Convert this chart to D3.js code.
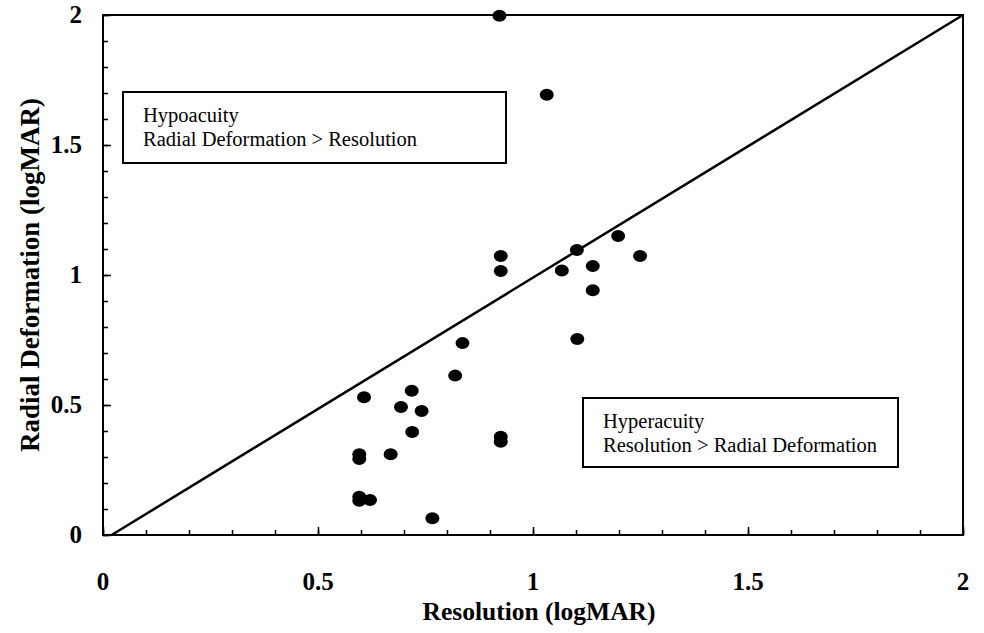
<!DOCTYPE html>
<html>
<head>
<meta charset="utf-8">
<script src="https://cdn.jsdelivr.net/npm/d3@7"></script>
<style>
  body { margin: 0; background: #fff; }
  svg { display: block; }
</style>
</head>
<body>
<script>
'use strict';

// resolution (x) and radial deformation (y), both logMAR
const resolution = [0.922, 1.032, 0.925, 0.925, 1.102, 1.198, 1.249, 1.067, 1.139, 1.139,
  1.103, 0.836, 0.819, 0.607, 0.718, 0.693, 0.741, 0.719, 0.596, 0.596, 0.669,
  0.925, 0.925, 0.596, 0.596, 0.621, 0.766];
const deformation = [1.997, 1.693, 1.073, 1.015, 1.096, 1.150, 1.073, 1.017, 1.035, 0.941,
  0.754, 0.738, 0.613, 0.530, 0.555, 0.492, 0.477, 0.396, 0.311, 0.292, 0.311,
  0.378, 0.359, 0.147, 0.132, 0.135, 0.064];

const majorTicks = [0, 0.5, 1, 1.5, 2];
const minorTicks = d3.range(0, 21).map((i) => i / 10);
const tickLabels = ["0", "0.5", "1", "1.5", "2"];

// reference line endpoints (x, y)
const refLine = [[0.02, 0], [2, 2]];

const hypoText = ["Hypoacuity", "Radial Deformation > Resolution"];
const hyperText = ["Hyperacuity", "Resolution > Radial Deformation"];

const width = 984, height = 633;
const svg = d3.select('body').append('svg')
  .attr('width', width)
  .attr('height', height);

const margin = {left: 103, right: 21, top: 15, bottom: 98};
const x = d3.scaleLinear().domain([0, 2]).range([margin.left, width - margin.right]);
const y = d3.scaleLinear().domain([0, 2]).range([height - margin.bottom, margin.top]);

const serif = "'Liberation Serif', 'Times New Roman', serif";

// frame
svg.append('rect')
  .attr('x', x(0)).attr('y', y(2))
  .attr('width', x(2) - x(0)).attr('height', y(0) - y(2))
  .attr('fill', 'none').attr('stroke', '#000').attr('stroke-width', 2);

// inward ticks on bottom and left
svg.append('g').attr('transform', 'translate(0,' + y(0) + ')')
  .call(d3.axisTop(x).tickValues(minorTicks).tickSize(5).tickFormat(''));
svg.append('g').attr('transform', 'translate(' + x(0) + ',0)')
  .call(d3.axisRight(y).tickValues(minorTicks).tickSize(5).tickFormat(''));
svg.append('g').attr('transform', 'translate(0,' + y(0) + ')')
  .call(d3.axisTop(x).tickValues(majorTicks).tickSize(8).tickFormat(''));
svg.append('g').attr('transform', 'translate(' + x(0) + ',0)')
  .call(d3.axisRight(y).tickValues(majorTicks).tickSize(8).tickFormat(''));
svg.selectAll('.domain').remove();
svg.selectAll('.tick line').attr('stroke', '#000').attr('stroke-width', 1.5);

// tick labels
svg.selectAll('.xlab').data(majorTicks).enter().append('text')
  .attr('x', (d) => x(d)).attr('y', y(0) + 55)
  .attr('text-anchor', 'middle')
  .style('font-family', serif).style('font-weight', 'bold').style('font-size', '25px')
  .text((d, i) => tickLabels[i]);
svg.selectAll('.ylab').data(majorTicks).enter().append('text')
  .attr('x', x(0) - 21).attr('y', (d) => y(d) + 8)
  .attr('text-anchor', 'end')
  .style('font-family', serif).style('font-weight', 'bold').style('font-size', '25px')
  .text((d, i) => tickLabels[i]);

// axis titles
svg.append('text')
  .attr('x', 539).attr('y', 620)
  .attr('text-anchor', 'middle')
  .style('font-family', serif).style('font-weight', 'bold').style('font-size', '25.5px')
  .text('Resolution (logMAR)');
svg.append('text')
  .attr('transform', 'translate(39, 275)rotate(-90)')
  .attr('text-anchor', 'middle')
  .style('font-family', serif).style('font-weight', 'bold').style('font-size', '27px')
  .text('Radial Deformation (logMAR)');

// y = x reference line
svg.append('line')
  .attr('x1', x(refLine[0][0])).attr('y1', y(refLine[0][1]))
  .attr('x2', x(refLine[1][0])).attr('y2', y(refLine[1][1]))
  .attr('stroke', '#000').attr('stroke-width', 2.5);

// labelled boxes
function textBox(bx, by, bw, bh, lines) {
  svg.append('rect')
    .attr('x', bx).attr('y', by).attr('width', bw).attr('height', bh)
    .attr('fill', '#fff').attr('stroke', '#000').attr('stroke-width', 2);
  svg.selectAll(null).data(lines).enter().append('text')
    .attr('x', bx + 20).attr('y', (d, i) => by + 30 + i * 24)
    .style('font-family', serif).style('font-size', '20.5px')
    .text((d) => d);
}
textBox(123, 92, 383, 71, hypoText);
textBox(583, 398, 315, 69, hyperText);

// data points
const points = resolution.map((r, i) => ({r: r, d: deformation[i]}));
svg.selectAll('.dot').data(points).enter().append('ellipse')
  .attr('class', 'dot')
  .attr('cx', (p) => x(p.r))
  .attr('cy', (p) => y(p.d))
  .attr('rx', 7).attr('ry', 6)
  .attr('fill', '#000');
</script>
</body>
</html>
